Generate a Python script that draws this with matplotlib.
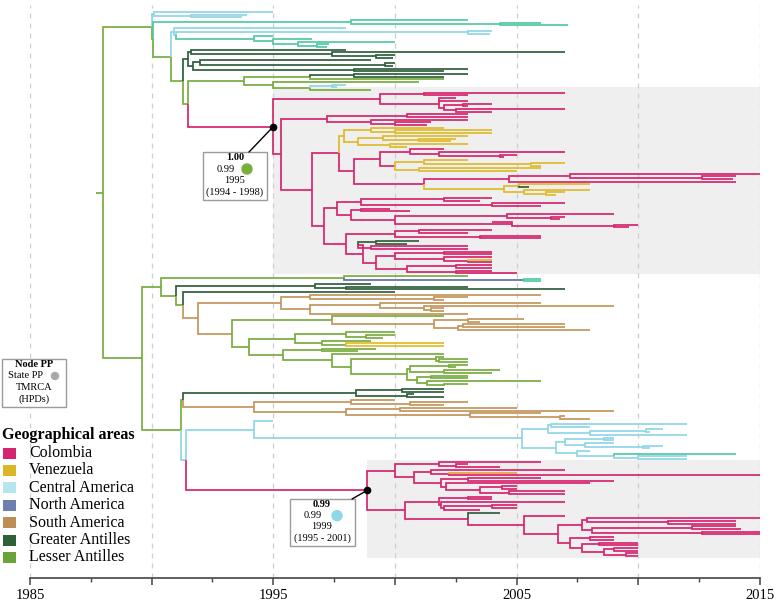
import numpy as np
import matplotlib
matplotlib.use("Agg")
import matplotlib.pyplot as plt
from matplotlib.collections import LineCollection
from matplotlib.patches import Rectangle, Circle, ConnectionPatch

plt.rcParams.update({"font.family": "serif",
                     "font.serif": ["Liberation Serif", "DejaVu Serif"]})

W, H = 782, 604

# state colours of the branches
COLORS = {"C": "#d6246e", "V": "#e0bb2a", "A": "#8fd6e8", "N": "#5d6fa8",
          "S": "#c4955c", "G": "#2f5d3a", "L": "#78ad3e", "T": "#52c9a2",
          "O": "#e8a040"}
LEGEND_NAMES = ["Colombia", "Venezuela", "Central America", "North America",
                "South America", "Greater Antilles", "Lesser Antilles"]
LEGEND_COLORS = ["#d6246e", "#dcb625", "#b5e5ef", "#6c7fae", "#bf8e55",
                 "#2f6036", "#6ba33a"]

# tree: label = state@year[@tag]
TOP_A1 = "(A@1995.0,(A@1993.9,A@1993.7)A@1991.6)A@1990.1"
TOP_A2 = "(T@2003.0,(T@2006.0,T@2007.1)T@2004.3)T@1998.2"
TOP_D1 = ("(A@1998.0,((A@2004.0,A@2003.9)A@2003.0,(T@1995.0,(T@1996.6,(T@2000.0,"
          "(T@1997.3,T@1997.2)T@1996.8)T@1996.0)T@1995.0)T@1994.2)A@1991.0)A@1990.9")
TOP_GA = ("((G@1998.0,(G@2007.0,(G@2000.0,G@1999.9)G@1999.2)G@1997.4)G@1991.6,"
          "((G@1999.0,(G@2000.0,G@1999.9)G@1999.6)G@1992.0,(G@2003.0,G@2002.0)G@1998.3)G@1991.7)G@1991.5")
TOP_LA = ("(((G@2003.0,G@2002.0)G@1998.3,L@2002.0)L@1996.5,(L@2001.0,"
          "((A@1998.0,A@1997.6)A@1997.4,L@1999.0)L@1996.5)L@1995.0)L@1993.8")

COL1_U = ("((C@2007.0,C@2003.0)C@2001.2,((C@2002.5,C@2003.0)C@2001.8,((C@2004.0,C@2003.0)C@2002.8,"
          "(C@2007.0,C@2004.0)C@2002.5)C@2002.0)C@2001.8)C@1999.4")
COL1_M1 = "((C@2003.0,C@2003.0)C@2000.5,(C@2003.0,(C@2001.5,C@2001.3)C@2000.0)C@1999.0)C@1997.2"
COL1_V1 = ("((V@2002.0,(V@2004.0,V@2004.0)V@2000.0)V@1999.0,((V@2003.0,(V@2002.5,V@2002.3)V@2001.0)V@1999.5,"
           "(V@2003.0,V@2000.5)V@1999.8)V@1998.5)V@1997.9")
COL1_V2 = ("((C@2002.0,(C@2007.0,(C@2005.0,C@2004.5)C@2004.3)C@2001.8)C@2000.6,((V@2003.0,"
           "(V@2007.0,V@2006.0)V@2005.6)V@2001.2,(V@2006.0,V@2005.0)V@2001.0)C@2000.0)C@1999.4")
COL1_LONG = ("(((C@2015.0,(C@2014.0,C@2013.9)C@2012.6)C@2007.2,C@2014.0)C@2004.7,((V@2008.0,G@2005.5)V@2005.1,"
             "(V@2008.0,(V@2007.0,V@2006.6)V@2006.2)V@2005.3)V@2004.5)C@2001.2")
COL1_LO1 = ("(((C@2004.0,C@2003.5)C@2002.0,(C@2007.0,C@2006.0)C@2004.0)C@1998.6,((C@1999.8,C@2000.6)C@1998.6,"
            "((C@2009.0,(C@2007.0,C@2006.8)C@2006.4)C@2004.6,(C@2004.0,(C@2010.0,C@2009.6)C@2009.0)C@2004.8)C@2000.0)C@1998.2)C@1997.6")
COL1_LO2 = ("(((C@2004.0,C@2003.0)C@2001.0,(C@2006.0,C@2006.0)C@2003.5)C@2000.0,(((G@2001.0,G@2000.5)G@1999.2,"
            "(C@2003.0,C@2003.0)C@1999.0)C@1998.5,"
            "(((C@2004.0,C@2004.0)C@2002.0,(C@2004.0,(V@2004.0,C@2004.0)C@2003.0)C@2002.0)C@2000.0,"
            "((C@2004.0,C@2004.0)C@2002.5,(C@2004.0,C@2005.0)C@2002.5)C@2000.5)C@1999.2)C@1998.7)C@1998.0")

LG_F1 = "(L@2003.0,(T@2006.0,T@2006.0)N@2005.3)L@1997.9"
LG_GC1 = "(G@1999.0,(G@2003.0,G@2007.0)G@1998.0)G@1996.7"
LG_SA = ("((S@2006.0,(S@2003.0,S@2002.0)S@2001.6)S@1996.5,((S@2006.0,(S@2009.0,(S@2002.0,S@2002.0)S@2001.5)S@2001.2)S@1999.4,"
         "S@2003.0)S@1996.5)S@1995.3")
LG_SBT = "(L@2002.0,((S@2005.3,S@2003.5)S@2003.0,((S@2007.0,S@2007.0)S@2002.8,S@2008.0)S@2002.6)S@2001.6)L@1997.4"
LG_SBB = "((L@2000.0,(L@2000.0,L@1999.5)L@1998.8)L@1998.0,(L@1999.0,(V@2002.0,V@2002.0)L@1998.0)L@1997.0)L@1995.9"
LG_LB = ("((L@1999.2,L@1998.5)L@1997.0,(L@2002.0,((L@2002.0,(L@2003.0,L@2003.0)L@2001.8)L@2001.7,"
         "(((L@2003.0,L@2002.5)L@2002.2,(L@2004.3,L@2004.0)L@2002.0)L@2000.6,"
         "((L@2003.0,L@2003.0)L@2001.5,(L@2006.0,(L@2003.0,L@2002.0)L@2002.0)L@2001.3)L@2000.9)L@2000.5)L@1998.2)L@1997.4)L@1995.4")
LG_GDG = "((G@2002.0,G@2002.0)G@2000.3,(G@2000.8,G@2002.0)G@2000.5)G@1998.4"
LG_STAN = ("((S@2000.0,(S@2003.0,S@2002.0)S@2000.6)S@1998.2,((S@2005.0,S@2009.0)S@2000.2,"
           "(S@2006.0,(S@2007.0,S@2008.0)S@2006.8)S@2003.1)S@1998.0)S@1994.2")
CA_SUB = ("(((A@2012.0,A@2008.0)A@2006.4,((A@2011.0,A@2010.5)A@2010.3,A@2012.0)A@2008.0)A@2006.3,"
          "(((A@2009.0,A@2009.0)A@2008.6,(A@2009.0,(A@2011.0,A@2010.5)A@2010.2)A@2007.8)A@2007.0,"
          "(A@2008.0,(T@2014.0,(A@2012.0,A@2012.0)A@2010.0)A@2009.0)A@2007.5)A@2006.6)A@2005.2")
COL2_A = ("((C@2006.0,(C@2003.0,C@2004.3)C@2002.5)C@2001.8,((C@2007.0,(O@2005.0,C@2015.0)C@2002.2)C@2001.5,"
          "((C@2006.0,C@2009.0)C@2003.0,(C@2008.0,((C@2005.0,C@2005.0)C@2004.4,(C@2007.0,C@2007.0)C@2004.7)C@2003.5)C@2002.1)C@2001.9)C@2000.8)C@2000.0")
COL2_CC1 = ("((C@2015.0,(C@2014.0,C@2014.0)C@2011.2)C@2007.9,((C@2014.0,C@2014.2)C@2012.2,"
            "(C@2015.0,C@2015.0)C@2012.6)C@2008.1)C@2007.7")
COL2_CC2 = ("((C@2009.0,C@2009.0)C@2008.0,((C@2010.0,C@2010.0)C@2008.4,((C@2010.0,C@2010.0)C@2009.0,"
            "(C@2010.0,C@2010.0)C@2009.5)C@2008.6)C@2007.7)C@2007.2")
COL2_B = ("(((C@2004.0,C@2004.0)C@2003.0,(C@2007.0,((C@2005.0,C@2005.0)C@2004.0,C@2003.5)C@2002.0)C@2001.9)C@2001.8,"
          "(G@2004.3,(C@2007.0,(" + COL2_CC1 + "," + COL2_CC2 + ")C@2006.7)C@2005.3)C@2003.0)C@2000.4")

COL1 = ("(" + COL1_U + ",(" + COL1_M1 + ",((" + COL1_V1 + ",(" + COL1_V2 + "," + COL1_LONG +
        ")C@1998.3)C@1997.7,(" + COL1_LO1 + "," + COL1_LO2 + ")C@1997.1)C@1996.6)C@1995.3)C@1995.0@col1")
TOP = ("(" + TOP_A1 + ",(" + TOP_A2 + ",(" + TOP_D1 + ",(" + TOP_GA + ",(" + TOP_LA + "," + COL1 +
       ")L@1991.5)L@1991.3)L@1990.8)L@1990.05)L@1990.0")
LG_F = ("(" + LG_F1 + ",(" + LG_GC1 + ",(G@2000.0,(" + LG_SA + ",(" + LG_SBT + ",(" + LG_SBB + "," + LG_LB +
        ")L@1994.0)S@1993.3)S@1991.9)L@1991.3)L@1991.0)L@1990.4")
COL2 = "(" + COL2_A + "," + COL2_B + ")C@1998.85@col2"
LG_G = ("((" + LG_GDG + "," + LG_STAN + ")L@1991.3,((A@1995.0," + CA_SUB + ")A@1994.2," + COL2 +
        ")A@1991.4)L@1991.2")
TREE = "(" + TOP + ",(" + LG_F + "," + LG_G + ")L@1989.6)L@1988.0"
ROOT_STUB = 1987.7

ANNOT = {"col1": ["1.00", "0.99", "1995", "(1994 - 1998)", "L"],
         "col2": ["0.99", "0.99", "1999", "(1995 - 2001)", "A"]}


def parse(s):
    s = "".join(s.split())
    pos = 0

    def node():
        nonlocal pos
        ch = []
        if s[pos] == "(":
            pos += 1
            while True:
                ch.append(node())
                if s[pos] == ",":
                    pos += 1
                    continue
                pos += 1
                break
        j = pos
        while j < len(s) and s[j] not in ",)":
            j += 1
        parts = s[pos:j].split("@")
        pos = j
        return {"st": parts[0], "t": float(parts[1]),
                "tag": parts[2] if len(parts) > 2 else None, "ch": ch}
    return node()


root = parse(TREE)
tips, tagged = [], {}


def lay(n):
    if n["tag"]:
        tagged[n["tag"]] = n
    if not n["ch"]:
        n["y"] = len(tips)
        tips.append(n)
        n["lo"] = n["hi"] = n["y"]
    else:
        for c in n["ch"]:
            lay(c)
        n["y"] = (n["ch"][0]["y"] + n["ch"][-1]["y"]) / 2
        n["lo"], n["hi"] = n["ch"][0]["lo"], n["ch"][-1]["hi"]


lay(root)
N = len(tips)

segs, cols = [[(ROOT_STUB, root["y"]), (root["t"], root["y"])]], [COLORS["L"]]


def walk(n):
    for c in n["ch"]:
        segs.append([(n["t"], n["y"]), (n["t"], c["y"]), (c["t"], c["y"])])
        cols.append(COLORS[c["st"]])
        walk(c)


walk(root)

fig = plt.figure(figsize=(W / 100, H / 100), dpi=100)
ax = fig.add_axes([30 / W, 1 - 578 / H, 730 / W, 573 / H])
s = (556 - 12) / (N - 1)
ax.set_xlim(1985, 2015)
ax.set_ylim((578 - 12) / s, (5 - 12) / s)

for yr in range(1985, 2016, 5):
    ax.axvline(yr, color="#cfcfcf", lw=0.9, ls=(0, (4, 4)), zorder=1)

for tag, pt, pb in [("col1", 2.2, 0.4), ("col2", 0.8, 0.8)]:
    n = tagged[tag]
    ax.add_patch(Rectangle((n["t"], n["lo"] - pt), 2015 - n["t"], n["hi"] - n["lo"] + pt + pb,
                           fc="#efefef", ec="none", zorder=0))

ax.add_collection(LineCollection(segs, colors=cols, linewidths=1.25, capstyle="butt",
                                 joinstyle="miter", zorder=3, clip_on=False))
for tag in ANNOT:
    n = tagged[tag]
    ax.plot(n["t"], n["y"], "o", color="black", ms=4.5, zorder=5)

for sp in ["left", "top", "right"]:
    ax.spines[sp].set_visible(False)
ax.spines["bottom"].set_color("#444444")
ax.spines["bottom"].set_linewidth(1.2)
ax.set_yticks([])
ax.set_xticks(range(1985, 2016, 5))
ax.set_xticklabels(["1985", "", "1995", "", "2005", "", "2015"], fontsize=10.5)
ax.set_xticks(np.arange(1987.5, 2015, 5), minor=True)
ax.tick_params(axis="x", which="major", length=5, width=1.1, color="#444444", pad=3)
ax.tick_params(axis="x", which="minor", length=3, width=1.0, color="#444444")

# overlay in pixel coordinates for boxes and legend
ov = fig.add_axes([0, 0, 1, 1], facecolor="none")
ov.set_xlim(0, W)
ov.set_ylim(H, 0)
ov.axis("off")

TXT = 7.5


def info_box(x0, y0, x1, y1, lines, dot, cx, dx):
    ov.add_patch(Rectangle((x0, y0), x1 - x0, y1 - y0, fc="white", ec="#9a9a9a", lw=1.0, zorder=2))
    ys = np.linspace(y0 + 5.5, y1 - 8, 4)
    ov.text(cx, ys[0], lines[0], ha="center", va="center", fontsize=TXT, fontweight="bold", zorder=3)
    ov.text(cx - 9, ys[1], lines[1], ha="center", va="center", fontsize=TXT, zorder=3)
    ov.add_patch(Circle((dx, ys[1]), dot[1], color=dot[0], zorder=3))
    ov.text(cx, ys[2], lines[2], ha="center", va="center", fontsize=TXT, zorder=3)
    ov.text(cx, ys[3], lines[3], ha="center", va="center", fontsize=TXT, zorder=3)


a = ANNOT["col1"]
info_box(203, 152, 267, 200, a[:4], (COLORS[a[4]], 5), 235, 247)
fig.add_artist(ConnectionPatch((tagged["col1"]["t"], tagged["col1"]["y"]), (249, 152),
                               coordsA=ax.transData, coordsB=ov.transData, color="black", lw=1.0))
a = ANNOT["col2"]
info_box(290, 499, 355, 546, a[:4], (COLORS[a[4]], 5), 322, 337)
fig.add_artist(ConnectionPatch((tagged["col2"]["t"], tagged["col2"]["y"]), (352, 499),
                               coordsA=ax.transData, coordsB=ov.transData, color="black", lw=1.0))
info_box(2, 359, 66, 407, ["Node PP", "State PP", "TMRCA", "(HPDs)"], ("#a8a8a8", 3.5), 34, 55)

ov.text(2, 435, "Geographical areas", ha="left", va="center", fontsize=11.5, fontweight="bold")
for i, (nm, c) in enumerate(zip(LEGEND_NAMES, LEGEND_COLORS)):
    yc = 453 + i * 17.4
    ov.add_patch(Rectangle((3, yc - 5.5), 13, 11, fc=c, ec="none"))
    ov.text(29, yc, nm, ha="left", va="center", fontsize=11.5)

fig.savefig("out.png", dpi=100)
